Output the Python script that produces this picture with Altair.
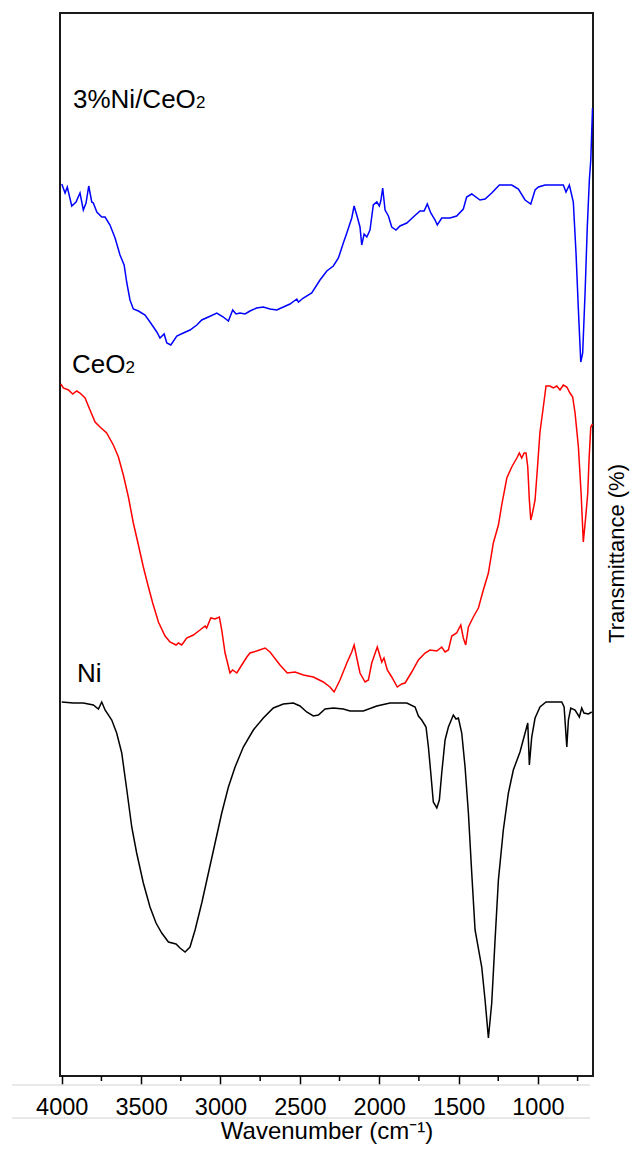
import altair as alt
import pandas as pd

FONT = "Liberation Sans"

# FT-IR spectra: (wavenumber cm-1, transmittance a.u.)
ni_ceo2 = [
    (4000, 89.2), (3979, 88.3), (3965, 88.9), (3937, 87.0), (3910, 87.4), (3885, 88.3),
    (3864, 86.6), (3847, 87.3), (3830, 89.0), (3811, 87.4), (3801, 87.3), (3779, 86.4),
    (3748, 85.9), (3727, 85.9), (3696, 85.1), (3664, 83.8), (3633, 82.1), (3607, 81.1),
    (3590, 79.3), (3570, 77.6), (3549, 76.7), (3517, 76.5), (3475, 76.1), (3444, 75.4),
    (3401, 74.4), (3381, 73.8), (3355, 74.2), (3338, 73.3), (3313, 73.1), (3275, 74.0),
    (3234, 74.3), (3192, 74.6), (3149, 75.1), (3118, 75.6), (3076, 75.9), (3023, 76.3),
    (2982, 75.9), (2950, 75.5), (2923, 76.6), (2902, 76.2), (2877, 76.3), (2845, 76.2),
    (2814, 76.5), (2772, 76.8), (2730, 76.9), (2688, 76.7), (2645, 76.6), (2604, 76.9),
    (2562, 77.2), (2519, 77.7), (2509, 77.4), (2478, 77.8), (2425, 78.3), (2373, 79.6),
    (2330, 80.5), (2289, 81.0), (2257, 81.8), (2226, 83.3), (2204, 84.3), (2173, 85.8),
    (2158, 87.0), (2138, 85.9), (2121, 84.9), (2110, 83.1), (2095, 84.2), (2078, 83.9),
    (2058, 84.6), (2037, 87.1), (2015, 87.4), (1999, 87.0), (1990, 87.5), (1978, 88.8),
    (1963, 86.6), (1942, 86.0), (1921, 84.9), (1894, 84.6), (1869, 85.0), (1826, 85.3),
    (1785, 85.9), (1743, 86.5), (1717, 86.5), (1697, 87.2), (1675, 86.3), (1648, 85.6),
    (1634, 85.1), (1606, 85.8), (1554, 85.8), (1512, 86.0), (1470, 86.7), (1449, 87.9),
    (1417, 88.2), (1365, 87.6), (1333, 87.7), (1291, 88.3), (1243, 89.1), (1165, 89.1),
    (1123, 88.7), (1081, 87.6), (1045, 87.2), (1018, 88.6), (997, 88.9), (955, 89.1),
    (840, 89.1), (823, 88.4), (802, 89.1), (777, 87.4), (760, 82.3), (745, 76.6),
    (730, 71.4), (718, 72.3), (703, 78.3), (689, 84.9), (676, 89.6), (667, 91.6),
    (656, 96.8),
]

ceo2 = [
    (4006, 69.2), (3990, 68.8), (3958, 68.6), (3931, 68.2), (3906, 68.5), (3885, 68.3),
    (3853, 67.8), (3822, 66.6), (3790, 65.4), (3759, 64.9), (3717, 64.3), (3675, 63.1),
    (3643, 61.9), (3612, 60.1), (3580, 57.9), (3549, 55.3), (3517, 53.1), (3486, 50.9),
    (3454, 48.9), (3427, 47.3), (3391, 45.4), (3349, 44.0), (3318, 43.4), (3280, 43.1),
    (3265, 43.3), (3244, 43.1), (3213, 43.8), (3171, 44.1), (3129, 44.6), (3097, 45.0),
    (3087, 44.8), (3061, 45.8), (3034, 45.7), (3007, 45.9), (2992, 44.6), (2971, 42.3),
    (2960, 41.6), (2940, 40.3), (2923, 40.6), (2897, 40.3), (2866, 41.1), (2834, 41.9),
    (2814, 42.3), (2772, 42.5), (2719, 42.8), (2688, 42.4), (2625, 41.1), (2579, 40.3),
    (2530, 40.4), (2478, 40.1), (2415, 39.9), (2352, 39.4), (2310, 38.9), (2284, 38.4),
    (2247, 39.6), (2204, 41.3), (2173, 42.4), (2158, 43.1), (2141, 41.8), (2121, 40.3),
    (2089, 39.4), (2068, 39.6), (2047, 41.3), (2012, 42.9), (1984, 41.4), (1970, 41.8),
    (1949, 40.6), (1921, 39.9), (1886, 38.9), (1858, 39.2), (1837, 39.3), (1795, 40.4),
    (1753, 41.6), (1711, 42.3), (1680, 42.6), (1637, 42.5), (1606, 42.9), (1585, 42.4),
    (1564, 42.6), (1543, 44.0), (1512, 44.3), (1486, 45.1), (1470, 43.8), (1455, 43.1),
    (1438, 44.9), (1407, 45.9), (1375, 46.8), (1344, 48.6), (1312, 50.3), (1281, 53.3),
    (1249, 55.1), (1228, 57.1), (1196, 59.8), (1165, 60.9), (1133, 61.8), (1117, 62.3),
    (1102, 61.8), (1087, 62.3), (1075, 62.3), (1064, 60.9), (1054, 57.6), (1045, 55.6),
    (1033, 56.4), (1018, 57.6), (1004, 60.6), (987, 64.4), (966, 66.9), (949, 69.0),
    (924, 69.0), (903, 68.8), (881, 69.0), (861, 68.6), (840, 69.1), (818, 68.9),
    (798, 68.3), (781, 67.9), (766, 66.3), (745, 62.9), (728, 58.3), (714, 53.4),
    (699, 55.9), (686, 58.3), (678, 61.6), (667, 64.9), (656, 65.2),
]

ni = [
    (4000, 37.4), (3927, 37.3), (3864, 37.3), (3801, 37.1), (3769, 36.7), (3748, 37.4),
    (3727, 36.6), (3685, 35.6), (3654, 34.3), (3622, 32.3), (3590, 28.6), (3559, 24.9),
    (3528, 22.3), (3486, 19.3), (3444, 16.9), (3406, 15.3), (3370, 14.3), (3328, 13.4),
    (3280, 13.2), (3255, 12.8), (3223, 12.4), (3192, 12.9), (3160, 14.6), (3118, 17.3),
    (3076, 20.3), (3034, 23.3), (2992, 26.3), (2950, 28.9), (2908, 30.9), (2856, 32.9),
    (2793, 34.6), (2730, 35.8), (2667, 36.8), (2604, 37.2), (2541, 37.3), (2499, 37.0),
    (2457, 36.4), (2415, 36.0), (2383, 36.1), (2341, 36.7), (2289, 36.8), (2226, 36.7),
    (2184, 36.5), (2100, 36.5), (2015, 37.0), (1932, 37.3), (1826, 37.3), (1774, 36.9),
    (1753, 36.0), (1732, 35.6), (1705, 34.9), (1690, 32.9), (1675, 30.3), (1659, 27.4),
    (1637, 26.8), (1621, 27.6), (1606, 30.3), (1585, 33.6), (1564, 34.9), (1533, 36.1),
    (1516, 35.7), (1501, 35.8), (1480, 34.3), (1459, 30.9), (1438, 26.3), (1417, 20.3),
    (1396, 14.6), (1354, 10.9), (1333, 7.6), (1312, 3.8), (1291, 7.3), (1270, 13.6),
    (1249, 19.6), (1218, 24.6), (1186, 28.3), (1155, 30.6), (1113, 32.4), (1064, 35.3),
    (1054, 31.1), (1039, 33.9), (1018, 35.8), (987, 36.9), (949, 37.4), (850, 37.4),
    (835, 36.9), (818, 32.9), (808, 35.6), (793, 36.8), (766, 36.6), (739, 35.9),
    (724, 36.8), (710, 36.3), (682, 36.2), (661, 36.4),
]

series_names = ["3%Ni/CeO2", "CeO2", "Ni"]
series_colors = ["#0000ff", "#ff0000", "#000000"]

label_main = ["3%Ni/CeO", "CeO", "Ni"]
label_sub = ["2", "2", ""]
label_wn = [3929, 3935, 3904]
label_t = [96.8, 70.3, 39.4]
label_sub_dx = [123, 53.5, 0]

major_ticks = [4000, 3500, 3000, 2500, 2000, 1500, 1000]
minor_ticks = [3750, 3250, 2750, 2250, 1750, 1250, 750]

rows = []
for name, pts in zip(series_names, [ni_ceo2, ceo2, ni]):
    for wn, t in pts:
        rows.append({"series": name, "wn": wn, "t": t})
df = pd.DataFrame(rows)

W, H = 533, 1063
x_scale = alt.Scale(domain=[4011, 653], nice=False, zero=False)
y_scale = alt.Scale(domain=[0, 106.3], nice=False, zero=False)

x_axis = alt.Axis(
    values=major_ticks, format="d", title="Wavenumber (cm⁻¹)",
    labelFont=FONT, labelFontSize=23.5, labelColor="black", labelPadding=11,
    labelFlush=False, labelOverlap=False,
    tickSize=8, tickWidth=1.5, tickColor="black",
    domain=False, grid=False,
    titleFont=FONT, titleFontSize=24, titleFontWeight="normal",
    titleColor="black", titlePadding=1,
)
y_axis = alt.Axis(
    orient="right", labels=False, ticks=False, domain=False, grid=False,
    title="Transmittance (%)", titleFont=FONT, titleFontSize=22,
    titleFontWeight="normal", titleColor="black", titleAngle=270,
    titleBaseline="top", titlePadding=13, titleY=540,
)


def xenc():
    return alt.X("wn:Q", scale=x_scale, axis=x_axis)


def yenc():
    return alt.Y("t:Q", scale=y_scale, axis=y_axis)


lines = alt.Chart(df).mark_line(strokeWidth=1.5, clip=True).encode(
    x=xenc(),
    y=yenc(),
    color=alt.Color("series:N", scale=alt.Scale(domain=series_names, range=series_colors), legend=None),
)

minor = alt.Chart(pd.DataFrame({"wn": minor_ticks})).mark_rule(color="black", strokeWidth=1.5).encode(
    x=xenc(),
    y=alt.value(H),
    y2=alt.value(H + 5),
)

grey1 = alt.Chart(pd.DataFrame({"a": [0]})).mark_rule(color="#d2d2d2", strokeWidth=1).encode(
    x=alt.value(-48), x2=alt.value(530), y=alt.value(H + 9)
)
grey2 = alt.Chart(pd.DataFrame({"a": [0]})).mark_rule(color="#d2d2d2", strokeWidth=1).encode(
    x=alt.value(-48), x2=alt.value(530), y=alt.value(H + 42)
)

lab_df = pd.DataFrame({"wn": label_wn, "t": label_t, "text": label_main})
labels = alt.Chart(lab_df).mark_text(
    align="left", baseline="alphabetic", font=FONT, fontSize=26, color="black"
).encode(
    x=xenc(),
    y=yenc(),
    text="text:N",
)

layers = [grey1, grey2, lines, minor, labels]
for wn, t, s, dx in zip(label_wn, label_t, label_sub, label_sub_dx):
    if not s:
        continue
    sub = alt.Chart(pd.DataFrame({"wn": [wn], "t": [t], "text": [s]})).mark_text(
        align="left", baseline="alphabetic", font=FONT, fontSize=17, color="black", dx=dx
    ).encode(
        x=xenc(),
        y=yenc(),
        text="text:N",
    )
    layers.append(sub)

chart = alt.layer(*layers).properties(
    width=W,
    height=H,
    padding={"left": 52, "top": 5, "right": 37, "bottom": 71},
    autosize=alt.AutoSizeParams(type="none"),
    background="white",
).configure_view(stroke="#1a1a1a", strokeWidth=2)

chart.save("out.html", embed_options={"renderer": "svg", "actions": False})
